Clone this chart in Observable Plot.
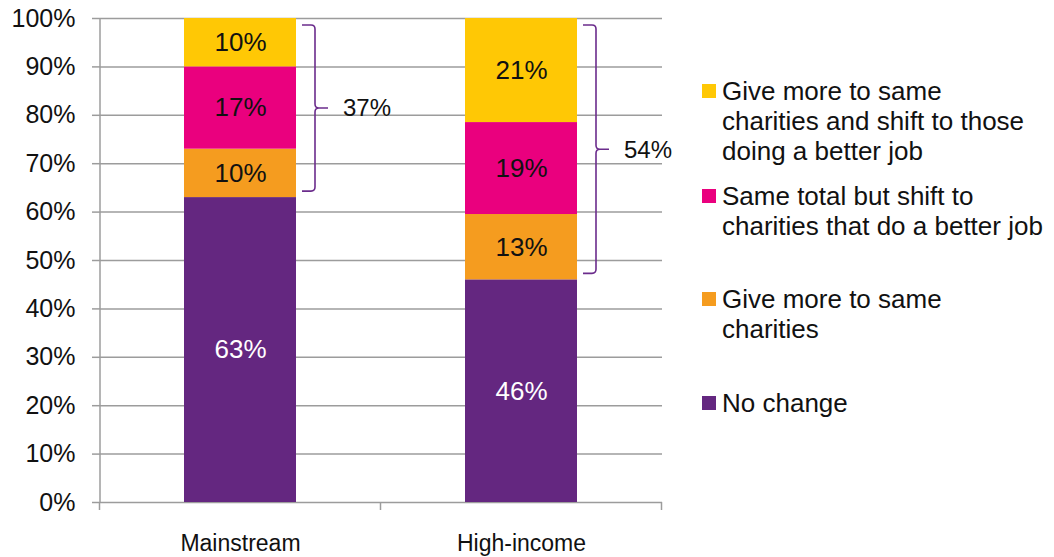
<!DOCTYPE html>
<html>
<head>
<meta charset="utf-8">
<script src="https://cdn.jsdelivr.net/npm/d3@7"></script>
<script src="https://cdn.jsdelivr.net/npm/@observablehq/plot@0.6"></script>
<style>
  html, body { margin: 0; padding: 0; background: #fff; }
  #wrap { position: relative; width: 1054px; height: 557px; font-family: "Liberation Sans", Arial, sans-serif; }
  #legend { position: absolute; left: 702px; top: 0; }
  .item { position: absolute; left: 0; display: flex; align-items: flex-start; font-size: 26px; line-height: 30px; color: #111; white-space: nowrap; }
  .sw { width: 14px; height: 14px; margin-top: 8px; margin-right: 6px; flex: none; }
</style>
</head>
<body>
<div id="wrap"><div id="chart"></div><div id="legend"></div></div>
<script>
const categories = ["Mainstream", "High-income"];
const seriesNames = [
  "No change",
  "Give more to same charities",
  "Same total but shift to charities that do a better job",
  "Give more to same charities and shift to those doing a better job"
];
const mainstreamValues = [63, 10, 17, 10];
const highIncomeValues = [46, 13.5, 19, 21.5];
const mainstreamLabels = ["63%", "10%", "17%", "10%"];
const highIncomeLabels = ["46%", "13%", "19%", "21%"];
const bracketLabels = ["37%", "54%"];
const yTicks = [0, 10, 20, 30, 40, 50, 60, 70, 80, 90, 100];
const seriesColors = ["#642780", "#F59C1F", "#EA007E", "#FFC805"];
const legendLines = [
  ["No change"],
  ["Give more to same", "charities"],
  ["Same total but shift to", "charities that do a better job"],
  ["Give more to same", "charities and shift to those", "doing a better job"]
];

const valuesByCat = [mainstreamValues, highIncomeValues];
const labelsByCat = [mainstreamLabels, highIncomeLabels];
const data = [];
categories.forEach((c, i) => {
  seriesNames.forEach((s, j) => {
    data.push({cat: c, series: s, value: valuesByCat[i][j], label: labelsByCat[i][j], idx: j});
  });
});

const gridColor = "#9c9c9c";
const braceColor = "#6B2C8C";

function decor(index, scales, values, dims) {
  const x = scales.x, y = scales.y;
  const bw = x.bandwidth(), step = x.step();
  const g = d3.create("svg:g");
  g.append("line")
    .attr("x1", dims.marginLeft).attr("x2", dims.marginLeft)
    .attr("y1", y(100)).attr("y2", y(0))
    .attr("stroke", gridColor).attr("stroke-width", 1.5);
  const gap = (step - bw) / 2;
  const bounds = categories.map(c => x(c) - gap);
  bounds.push(x(categories[categories.length - 1]) + bw + gap);
  bounds.forEach(b => {
    g.append("line").attr("x1", b).attr("x2", b)
      .attr("y1", y(0)).attr("y2", y(0) + 8)
      .attr("stroke", gridColor).attr("stroke-width", 1.5);
  });
  categories.forEach((c, i) => {
    const x0 = x(c) + bw + 6, x1 = x0 + 13, x2 = x1 + 13;
    const yTop = y(100) + 7;
    const yBot = y(valuesByCat[i][0]) - 6;
    const yMid = (yTop + yBot) / 2;
    const r = 4;
    const path = `M${x0},${yTop} L${x1 - r},${yTop} Q${x1},${yTop} ${x1},${yTop + r} L${x1},${yMid - r} Q${x1},${yMid} ${x1 + r},${yMid} L${x2},${yMid} M${x1 + r},${yMid} Q${x1},${yMid} ${x1},${yMid + r} L${x1},${yBot - r} Q${x1},${yBot} ${x1 - r},${yBot} L${x0},${yBot}`;
    g.append("path").attr("d", path).attr("fill", "none")
      .attr("stroke", braceColor).attr("stroke-width", 1.6);
    g.append("text").attr("x", x2 + 15).attr("y", yMid).attr("dy", "0.35em")
      .attr("text-anchor", "start")
      .attr("font-size", 24).attr("fill", "#111").text(bracketLabels[i]);
  });
  return g.node();
}

const chart = Plot.plot({
  width: 1054,
  height: 557,
  marginLeft: 100,
  marginRight: 392,
  marginTop: 18,
  marginBottom: 55,
  style: {fontFamily: "'Liberation Sans', Arial, sans-serif", background: "white", overflow: "visible"},
  x: {domain: categories, paddingInner: 0.6, paddingOuter: 0.3, label: null},
  y: {domain: [0, 100], label: null},
  color: {domain: seriesNames, range: seriesColors},
  marks: [
    Plot.ruleY(yTicks, {stroke: gridColor, strokeWidth: 1.5, strokeOpacity: 1}),
    Plot.barY(data, Plot.stackY({x: "cat", y: "value", fill: "series", order: "idx"})),
    Plot.text(data, Plot.stackY({x: "cat", y: "value", order: "idx",
      text: d => d.idx === 0 ? null : d.label, fill: "#111", fontSize: 26})),
    Plot.text(data, Plot.stackY({x: "cat", y: "value", order: "idx",
      text: d => d.idx === 0 ? d.label : null, fill: "white", fontSize: 26})),
    Plot.axisY({ticks: yTicks, tickFormat: d => d + "%", tickSize: 8, tickPadding: 17,
      fontSize: 25, stroke: gridColor, strokeWidth: 1.5, color: "#111", label: null}),
    Plot.axisX({tickSize: 0, tickPadding: 32, fontSize: 23, color: "#111", label: null}),
    decor
  ]
});
document.getElementById("chart").appendChild(chart);

const legend = document.getElementById("legend");
const firstLineCenters = [403, 299, 196, 91];
seriesNames.forEach((s, j) => {
  const item = document.createElement("div");
  item.className = "item";
  item.style.top = (firstLineCenters[j] - 15) + "px";
  const sw = document.createElement("div");
  sw.className = "sw";
  sw.style.background = seriesColors[j];
  const txt = document.createElement("div");
  txt.innerHTML = legendLines[j].join("<br>");
  item.appendChild(sw);
  item.appendChild(txt);
  legend.appendChild(item);
});
</script>
</body>
</html>
